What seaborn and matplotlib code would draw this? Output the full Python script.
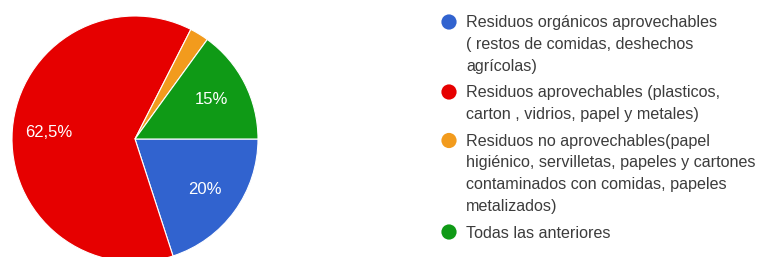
import matplotlib
matplotlib.use("Agg")
import matplotlib.pyplot as plt
import seaborn as sns
import pandas as pd

# Data
categories = [
    "Residuos orgánicos aprovechables\n( restos de comidas, deshechos\nagrícolas)",
    "Residuos aprovechables (plasticos,\ncarton , vidrios, papel y metales)",
    "Residuos no aprovechables(papel\nhigiénico, servilletas, papeles y cartones\ncontaminados con comidas, papeles\nmetalizados)",
    "Todas las anteriores",
]
percentages = [20.0, 62.5, 2.5, 15.0]
colors = ["#3163cf", "#e60000", "#f29b1d", "#0f9a16"]

sns.set_theme(style="white")
plt.rcParams["font.family"] = ["Liberation Sans", "DejaVu Sans"]

W, H = 762, 257
fig = plt.figure(figsize=(W / 100, H / 100), dpi=100)
fig.patch.set_facecolor("white")

# pie axes: center (135, 139) px, radius 123 px
cx, cy, r = 135, 139, 123
ax = fig.add_axes([(cx - r) / W, (H - cy - r) / H, 2 * r / W, 2 * r / H])


def fmt(p):
    if p < 5:
        return ""
    s = f"{p:.1f}".rstrip("0").rstrip(".").replace(".", ",")
    return s + "%"


wedges, texts, autotexts = ax.pie(
    percentages,
    colors=colors,
    startangle=0,
    counterclock=False,
    autopct=lambda p: fmt(p),
    pctdistance=0.7,
    wedgeprops=dict(edgecolor="white", linewidth=0.8),
    textprops=dict(color="white", fontsize=12),
)
ax.set_xlim(-1, 1)
ax.set_ylim(-1, 1)
ax.set_aspect("equal")

# legend drawn by hand: circle marker + wrapped text
lax = fig.add_axes([0, 0, 1, 1], facecolor="none")

line_h = 21.5
entry_gap = 27
y = 22
rows = []
for cat, col in zip(categories, colors):
    lines = cat.split("\n")
    rows.append(y)
    for i, ln in enumerate(lines):
        lax.text(466, y + i * line_h + 5.5, ln, fontsize=11.6, color="#3c3c3c",
                 ha="left", va="baseline")
    y += (len(lines) - 1) * line_h + entry_gap

mk = pd.DataFrame({"x": [449] * len(rows), "y": rows, "cat": categories})
sns.scatterplot(data=mk, x="x", y="y", hue="cat", palette=colors, s=120,
                edgecolor="none", legend=False, ax=lax)
lax.set_xlim(0, W)
lax.set_ylim(H, 0)
lax.axis("off")

fig.savefig("out.png", dpi=100)
